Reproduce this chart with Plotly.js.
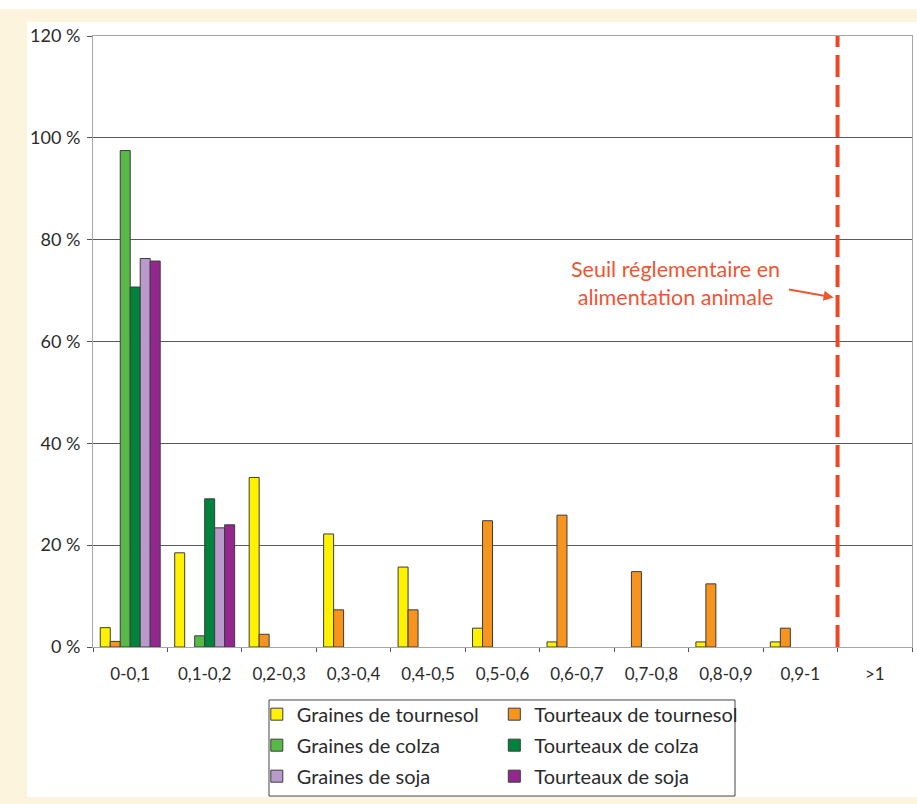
<!DOCTYPE html>
<html>
<head>
<meta charset="utf-8">
<script src="https://cdn.plot.ly/plotly-3.0.1.min.js"></script>
<style>
  html, body { margin: 0; padding: 0; background: #ffffff; }
  #frame { position: absolute; left: 0; top: 9px; width: 917px; height: 795px; background: #FDF4DE; }
  #chart { position: absolute; left: 27px; top: 22px; width: 890px; height: 775px; background: #ffffff; }
</style>
</head>
<body>
<div id="frame"></div>
<div id="chart"></div>
<script>
const categories = ["0-0,1", "0,1-0,2", "0,2-0,3", "0,3-0,4", "0,4-0,5", "0,5-0,6", "0,6-0,7", "0,7-0,8", "0,8-0,9", "0,9-1", ">1"];

const grainesTournesol   = [3.8, 18.5, 33.3, 22.2, 15.7, 3.7, 1.0, 0, 1.0, 1.0, 0];
const tourteauxTournesol = [1.1, 0, 2.5, 7.3, 7.3, 24.8, 25.9, 14.8, 12.4, 3.7, 0];
const grainesColza       = [97.5, 2.2, 0, 0, 0, 0, 0, 0, 0, 0, 0];
const tourteauxColza     = [70.7, 29.1, 0, 0, 0, 0, 0, 0, 0, 0, 0];
const grainesSoja        = [76.3, 23.4, 0, 0, 0, 0, 0, 0, 0, 0, 0];
const tourteauxSoja      = [75.8, 24.0, 0, 0, 0, 0, 0, 0, 0, 0, 0];

const seriesNames = ["Graines de tournesol", "Tourteaux de tournesol", "Graines de colza", "Tourteaux de colza", "Graines de soja", "Tourteaux de soja"];
const seriesValues = [grainesTournesol, tourteauxTournesol, grainesColza, tourteauxColza, grainesSoja, tourteauxSoja];
const seriesColors = ["#FFF200", "#F7941D", "#58B848", "#00843D", "#B89BCB", "#93278F"];

const yTickVals = [0, 20, 40, 60, 80, 100, 120];
const yTickText = ["0 %", "20 %", "40 %", "60 %", "80 %", "100 %", "120 %"];

const thresholdPosition = 9.5;   // boundary between "0,9-1" and ">1"
const annotationText = "Seuil réglementaire en<br>alimentation animale";

const FONT = "Lato, 'Open Sans', sans-serif";
const TEXT_COLOR = "#2b2b2b";

const traces = seriesNames.map((name, i) => ({
  type: "bar",
  name: name,
  x: categories,
  // empty classes (0) are simply not drawn, as in the original
  y: seriesValues[i].map(v => (v === 0 ? null : v)),
  marker: { color: seriesColors[i], line: { color: "#3c3c3c", width: 1 } },
  legend: (i % 2 === 0) ? "legend" : "legend2",
  legendgroup: "g" + i,
  hoverinfo: "x+y+name"
}));

const legendCommon = {
  orientation: "v",
  bgcolor: "rgba(0,0,0,0)",
  borderwidth: 0,
  font: { family: FONT, size: 20, color: TEXT_COLOR },
  tracegroupgap: 2,
  xanchor: "left",
  yanchor: "top",
  y: -0.078
};

const layout = {
  width: 890,
  height: 775,
  margin: { l: 66, r: 5, t: 14, b: 150, autoexpand: false },
  paper_bgcolor: "#ffffff",
  plot_bgcolor: "#ffffff",
  barmode: "group",
  bargap: 0.195,
  bargroupgap: 0,
  font: { family: FONT, color: TEXT_COLOR },
  showlegend: true,
  legend: Object.assign({}, legendCommon, { x: 0.2 }),
  legend2: Object.assign({}, legendCommon, { x: 0.49 }),
  xaxis: {
    type: "category",
    categoryorder: "array",
    categoryarray: categories,
    showline: true,
    mirror: true,
    linecolor: "#a6a6a6",
    linewidth: 1,
    ticks: "outside",
    tickson: "boundaries",
    ticklen: 4,
    tickcolor: "#555555",
    tickfont: { family: FONT, size: 17, color: TEXT_COLOR },
    ticklabelstandoff: 12,
    showgrid: false,
    zeroline: false,
    fixedrange: true
  },
  yaxis: {
    range: [0, 120],
    tickvals: yTickVals,
    ticktext: yTickText,
    showline: true,
    mirror: true,
    linecolor: "#a6a6a6",
    linewidth: 1,
    ticks: "outside",
    ticklen: 5,
    tickcolor: "#555555",
    tickfont: { family: FONT, size: 18, color: TEXT_COLOR },
    ticklabelstandoff: 3,
    showgrid: true,
    gridcolor: "#5a5a5a",
    gridwidth: 1,
    zeroline: false,
    fixedrange: true
  },
  shapes: [
    {
      type: "line", xref: "x", yref: "paper",
      x0: thresholdPosition, x1: thresholdPosition, y0: 0, y1: 1,
      line: { color: "#EE4823", width: 4, dash: "22px,8px" },
      layer: "above"
    },
    {
      type: "rect", xref: "paper", yref: "paper",
      x0: 0.2149, x1: 0.7839, y0: -0.2439, y1: -0.0867,
      line: { color: "#444444", width: 1 },
      fillcolor: "rgba(0,0,0,0)"
    }
  ],
  annotations: [
    {
      xref: "x", yref: "y", x: 7.32, y: 71.4,
      text: annotationText, showarrow: false,
      font: { family: FONT, size: 21.5, color: "#EF5533" },
      align: "center", xanchor: "center", yanchor: "middle"
    },
    {
      xref: "x", yref: "y", x: thresholdPosition, y: 68.5,
      text: "", showarrow: true,
      ax: -50, ay: -9, axref: "pixel", ayref: "pixel",
      arrowhead: 2, arrowsize: 1, arrowwidth: 2, arrowcolor: "#EF5533",
      standoff: 4
    }
  ]
};

Plotly.newPlot("chart", traces, layout, { displayModeBar: false, staticPlot: true });
</script>
</body>
</html>
